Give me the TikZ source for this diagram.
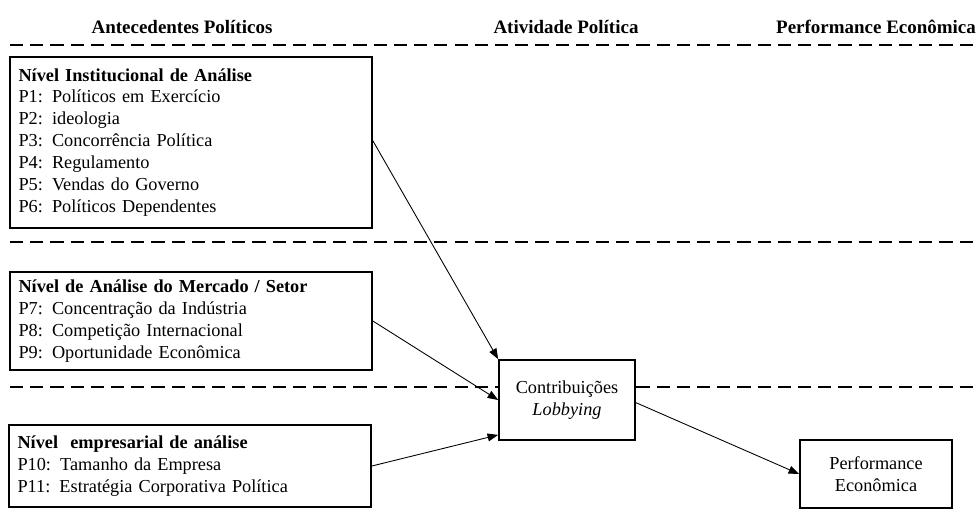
\documentclass[tikz,border=0pt]{standalone}
\usepackage{fontspec}
\setmainfont{Liberation Serif}
\usetikzlibrary{arrows.meta}
\begin{document}
\begin{tikzpicture}[x=0.02cm,y=-0.02cm,>={Triangle[length=6pt,width=4.5pt]},
  every node/.style={font=\fontsize{10.4}{12.5}\selectfont},
  head/.style={font=\fontsize{10.8}{12.5}\selectfont\bfseries},
  sep/.style={line width=1pt,dash pattern=on 7.5pt off 4pt},
  levelbox/.style={draw,line width=1pt,align=left,text width=6.9cm,inner xsep=0.17cm},
  varbox/.style={draw,line width=1pt,fill=white,align=center},
  link/.style={->,line width=0.5pt}]
  \useasboundingbox (0,0) rectangle (979,524);
  % column titles
  \node[head] (hant) at (182,27) {Antecedentes Políticos};
  \node[head] (hati) at (566,27) {Atividade Política};
  \node[head] (hper) at (876,27) {Performance Econômica};
  % separators
  \draw[sep] (10,45)--(979,45);
  \draw[sep] (10,242)--(979,242);
  \draw[sep] (10,387)--(979,387);
  % levels
  \node[levelbox,minimum height=3.42cm] (inst) at (191,142.5) {\textbf{Nível Institucional de Análise}\\
    P1: Políticos em Exercício\\
    P2: ideologia\\
    P3: Concorrência Política\\
    P4: Regulamento\\
    P5: Vendas do Governo\\
    P6: Políticos Dependentes};
  \node[levelbox,minimum height=1.96cm] (merc) at (191,321) {\textbf{Nível de Análise do Mercado / Setor}\\
    P7: Concentração da Indústria\\
    P8: Competição Internacional\\
    P9: Oportunidade Econômica};
  \node[levelbox,minimum height=1.64cm] (empr) at (190,466) {\textbf{Nível\ \ empresarial de análise}\\
    P10: Tamanho da Empresa\\
    P11: Estratégia\ Corporativa Política};
  % activity and outcome
  \node[varbox,minimum width=2.72cm,minimum height=1.6cm] (contrib) at (567,400) {Contribuições\\ \textit{Lobbying}};
  \node[varbox,minimum width=3.04cm,minimum height=1.36cm] (perf) at (876,474) {Performance\\ Econômica};
  % links
  \draw[link] ([yshift=1pt]inst.east) -- (contrib.north west);
  \draw[link] (merc.east) -- (contrib.west);
  \draw[link] (empr.east) -- ([yshift=3.4pt]contrib.south west);
  \draw[link] ([yshift=-1.5pt]contrib.east) -- (perf.west);
\end{tikzpicture}
\end{document}
